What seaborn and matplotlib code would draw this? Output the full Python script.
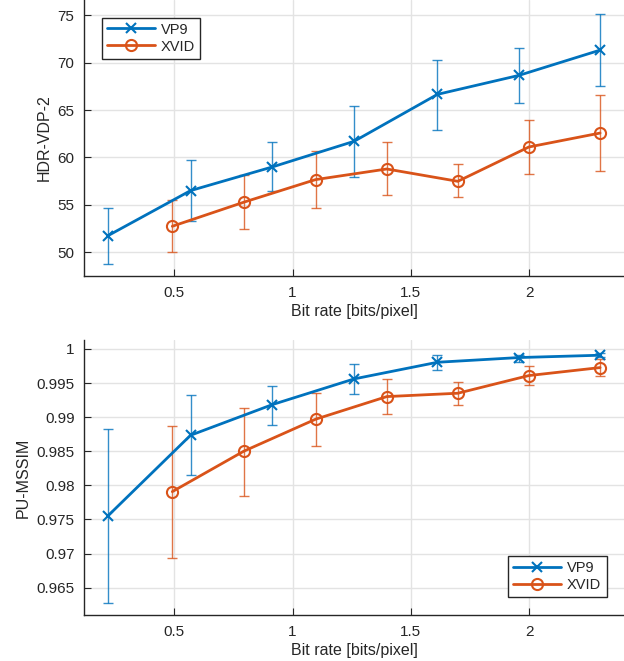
import numpy as np
import pandas as pd
import matplotlib
matplotlib.use("Agg")
import matplotlib.pyplot as plt
import seaborn as sns
from matplotlib.ticker import FuncFormatter

# bit rates (bits/pixel)
vp9_rate = [0.221, 0.569, 0.915, 1.26, 1.612, 1.956, 2.297]
xvid_rate = [0.492, 0.793, 1.097, 1.398, 1.698, 1.998, 2.299]

# HDR-VDP-2: mean, lower, upper
vp9_vdp = [51.76, 56.5, 59.0, 61.7, 66.65, 68.65, 71.3]
vp9_vdp_lo = [48.74, 53.27, 56.5, 57.9, 62.9, 65.77, 67.5]
vp9_vdp_hi = [54.64, 59.7, 61.66, 65.45, 70.3, 71.5, 75.15]
xvid_vdp = [52.74, 55.27, 57.66, 58.78, 57.48, 61.1, 62.57]
xvid_vdp_lo = [50.0, 52.4, 54.64, 56.0, 55.8, 58.2, 58.6]
xvid_vdp_hi = [55.5, 58.1, 60.68, 61.6, 59.3, 63.9, 66.6]

# PU-MSSIM: mean, lower, upper
vp9_ssim = [0.97556, 0.98734, 0.99184, 0.9956, 0.99804, 0.99873, 0.99907]
vp9_ssim_lo = [0.96270, 0.98157, 0.9889, 0.9934, 0.99687, 0.99814, 0.99878]
vp9_ssim_hi = [0.98822, 0.9933, 0.99462, 0.99775, 0.99917, 0.99912, 0.99946]
xvid_ssim = [0.97908, 0.98499, 0.98969, 0.99301, 0.9935, 0.99609, 0.99726]
xvid_ssim_lo = [0.96935, 0.97849, 0.98578, 0.99042, 0.99174, 0.99472, 0.99599]
xvid_ssim_hi = [0.98876, 0.9913, 0.9936, 0.99565, 0.99521, 0.99746, 0.99848]

codecs = ["VP9", "XVID"]
colors = {"VP9": "#0072BD", "XVID": "#D95319"}

sns.set_theme(style="whitegrid")
plt.rcParams["font.family"] = ["Liberation Sans", "DejaVu Sans"]

fig = plt.figure(figsize=(6.24, 6.61), dpi=100)
ax1 = fig.add_axes([0.135, 0.5825, 0.865, 0.4175])
ax2 = fig.add_axes([0.135, 0.0696, 0.865, 0.416])


def make_df(metric_vp9, metric_xvid):
    return pd.concat([
        pd.DataFrame({"rate": vp9_rate, "value": metric_vp9, "codec": "VP9"}),
        pd.DataFrame({"rate": xvid_rate, "value": metric_xvid, "codec": "XVID"}),
    ])


def draw(ax, df, errs, ylabel, ylim, yticks, legend_loc):
    # error bars first, under the lines
    for codec, rates, mean, lo, hi in errs:
        mean = np.array(mean)
        ax.errorbar(rates, mean, yerr=[mean - np.array(lo), np.array(hi) - mean],
                    fmt="none", ecolor=colors[codec], elinewidth=1.0,
                    capsize=3.5, capthick=1.0, alpha=0.8, zorder=2)
    for codec in codecs:
        sub = df[df.codec == codec]
        if codec == "VP9":
            mk = dict(marker="x", markersize=7)
        else:
            mk = dict(marker="o", markersize=8, markerfacecolor="none")
        sns.lineplot(data=sub, x="rate", y="value", ax=ax, color=colors[codec],
                     linewidth=2, label=codec, zorder=3,
                     markeredgecolor=colors[codec], markeredgewidth=1.5, **mk)
    ax.set_xlim(0.12, 2.4)
    ax.set_ylim(*ylim)
    ax.set_xticks([0.5, 1, 1.5, 2])
    ax.set_yticks(yticks)
    ax.xaxis.set_major_formatter(FuncFormatter(lambda v, p: f"{v:g}"))
    ax.yaxis.set_major_formatter(FuncFormatter(lambda v, p: f"{v:g}"))
    ax.set_xlabel("Bit rate [bits/pixel]", fontsize=11.5, color="#262626", labelpad=3)
    ax.set_ylabel(ylabel, fontsize=11.5, color="#262626", labelpad=4)
    ax.grid(True, color="#e3e3e3", linewidth=1)
    ax.tick_params(axis="both", labelsize=11, colors="#262626", direction="in",
                   length=5, width=0.8, left=True, bottom=True, pad=7)
    for side in ["top", "right"]:
        ax.spines[side].set_visible(False)
    for side in ["left", "bottom"]:
        ax.spines[side].set_color("#262626")
        ax.spines[side].set_linewidth(1)
    leg = ax.legend(loc=legend_loc, frameon=True, fancybox=False, fontsize=10.5,
                    borderaxespad=1.2, handlelength=3.3, borderpad=0.35,
                    labelspacing=0.2, handletextpad=0.4)
    leg.get_frame().set_edgecolor("#262626")
    leg.get_frame().set_linewidth(1)
    leg.get_frame().set_alpha(1)


draw(ax1, make_df(vp9_vdp, xvid_vdp),
     [("VP9", vp9_rate, vp9_vdp, vp9_vdp_lo, vp9_vdp_hi),
      ("XVID", xvid_rate, xvid_vdp, xvid_vdp_lo, xvid_vdp_hi)],
     "HDR-VDP-2", (47.5, 76.6), [50, 55, 60, 65, 70, 75], "upper left")

draw(ax2, make_df(vp9_ssim, xvid_ssim),
     [("VP9", vp9_rate, vp9_ssim, vp9_ssim_lo, vp9_ssim_hi),
      ("XVID", xvid_rate, xvid_ssim, xvid_ssim_lo, xvid_ssim_hi)],
     "PU-MSSIM", (0.961, 1.0013),
     [0.965, 0.97, 0.975, 0.98, 0.985, 0.99, 0.995, 1], "lower right")

fig.savefig("out.png", dpi=100)
